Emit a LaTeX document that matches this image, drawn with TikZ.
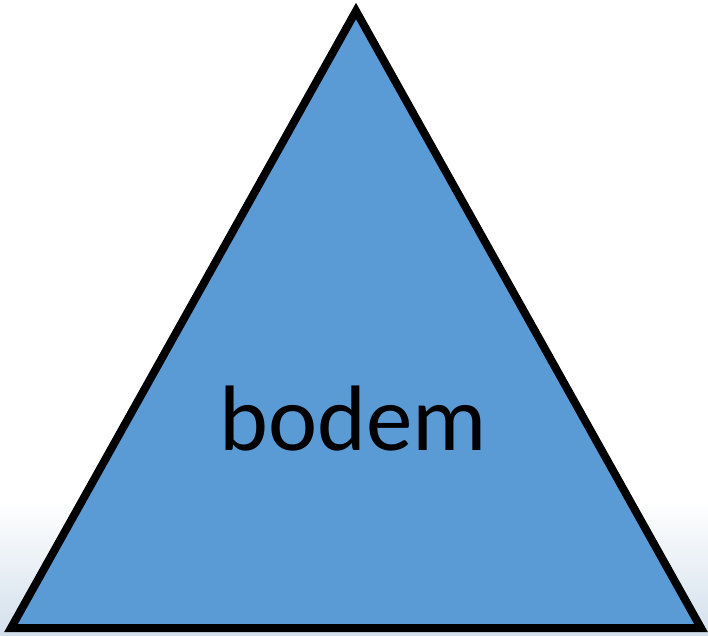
\documentclass[tikz,border=0pt]{standalone}
\usepackage{fontspec}
\setmainfont{Carlito}

\begin{document}
\begin{tikzpicture}[
		x=1pt, y=-1pt,
		laag/.style={
			draw=black, line width=8pt, fill=#1, line join=miter
		},
		tekst/.style={
			font=\fontsize{93}{110}\selectfont, text=black,
			inner sep=0pt, anchor=base
		}
		]
		
		\definecolor{bodemblauw}{HTML}{5B9BD5}
		\definecolor{achtergrond}{HTML}{D3E0EC}
		
		\useasboundingbox (0,0) rectangle (708,635);
		\fill[white] (0,0) rectangle (708,635);
		\shade[top color=white, bottom color=achtergrond] (0,500) rectangle (708,635);
		
		\coordinate (top)         at (356, 11);
		\coordinate (linksonder)  at (11, 628);
		\coordinate (rechtsonder) at (701, 628);
		
		\draw[laag=bodemblauw] (top) -- (linksonder) -- (rechtsonder) -- cycle;
		
		\node[tekst] (bodem) at (353.5, 450) {bodem};
		
	\end{tikzpicture}
\end{document}
